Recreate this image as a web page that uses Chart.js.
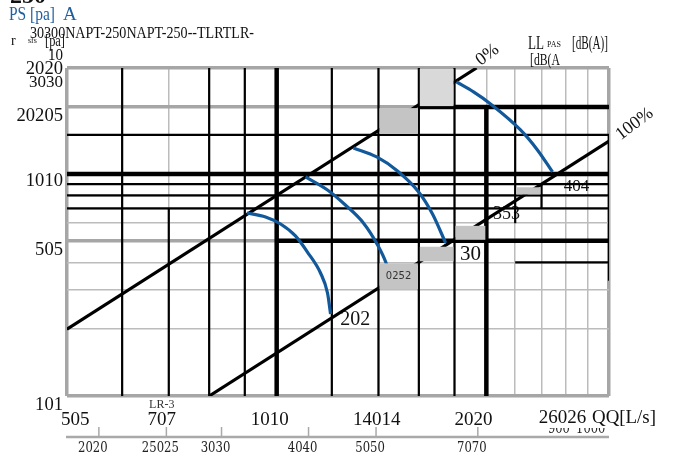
<!DOCTYPE html>
<html><head><meta charset="utf-8">
<script src="https://cdn.jsdelivr.net/npm/chart.js@4.4.0/dist/chart.umd.min.js"></script>
<style>html,body{margin:0;padding:0;background:#fff}</style>
</head><body>
<canvas id="c" width="688" height="464"></canvas>
<script>
// ---------- data ----------
const xGridValues = [50,60,70,80,90,100,120,140,160,180,200,220,240,260,280,300];   // Q [L/s]
const yGridValues = [10,20,30,40,50,60,70,80,90,100,150,200,300];                   // p [Pa]

// fan curves: Q [L/s], p [Pa]
const curve1Q = [90.6, 96.4, 101.3, 106.4, 110.7, 115.6, 118.3, 119.5];
const curve1P = [66.7, 64.0, 59.5, 52.6, 44.5, 35.8, 29.1, 23.4];
const curve2Q = [110.0, 118.3, 125.5, 133.2, 139.6, 143.4, 146];
const curve2P = [97.0, 84.7, 72.5, 60.2, 47.9, 40.1, 33.3];
const curve3Q = [128.9, 139.2, 149.1, 159.9, 167.4, 174.8];
const curve3P = [131, 119.3, 103.2, 83.0, 66.0, 48.9];
const curve4Q = [181.2, 191.7, 202.8, 223.9, 236.8, 248.9];
const curve4P = [259.7, 234.1, 206.7, 157.9, 128.3, 102.1];

// system lines (0% and 100%), end points
const line0Q = [50, 193.6];
const line0P = [20, 300];
const line100Q = [80, 300];
const line100P = [10, 140.6];

// black grid segments: [value, from, to]
const blackV = [[60,10,300],[70,10,70],[80,10,300],[90,10,300],[120,10,300],[140,10,300],[160,10,300],[180,10,300],[220,60,200],[240,70,90],[300,33,150]];
const heavyV = [[100,10,300],[200,10,200]];
const blackH = [[150,50,300],[90,50,300],[80,50,300],[70,50,300],[40,220,300]];
const heavyH = [[100,50,300],[200,160,300],[50,100,300]];

// shaded boxes
const boxQ = [[160,180],[140,160],[140,160],[160,180],[180,200],[220,240]];
const boxP = [[200,300],[150,200],[30,40],[40,47.5],[50,59],[80,88]];
const boxShade = ['light','mid','mid','mid','mid','mid'];

// axis texts
const yLabels = ['2020','3030','20205','1010','505','101'];
const yLabelAt = [297, 257, 182.5, 93.3, 45.5, 9.1];
const xLabels = ['505','707','1010','14014','2020','26026'];
const xLabelAt = [51.4, 68.4, 97.7, 139.2, 191.7, 257.2];
const flowM3h = [200,250,300,400,500,700];
const flowM3hLabels = ['2020','25025','3030','4040','5050','7070'];
const flowM3hHidden = [900,1000];

// curve labels
const curveLabels = ['202','30','353','404'];
const curveLabelQ = [129.7, 189.8, 213.8, 269.4];
const curveLabelP = [22.0, 43.2, 66.1, 88.1];
const boxLabel = '0252';
const boxLabelQ = 149.6, boxLabelP = 34.6;

// ---------- build datasets ----------
const BLUE = '#12599b';
const serif = '"Liberation Serif", "DejaVu Serif", serif';
function pts(q, p){ return q.map((v,i)=>({x:v, y:p[i]})); }
const datasets = [];
[[curve1Q,curve1P],[curve2Q,curve2P],[curve3Q,curve3P],[curve4Q,curve4P]].forEach(([q,p])=>{
  datasets.push({data:pts(q,p), showLine:true, borderColor:BLUE, borderWidth:3.2, pointRadius:0, cubicInterpolationMode:'monotone', fill:false});
});
[[line0Q,line0P],[line100Q,line100P]].forEach(([q,p])=>{
  datasets.push({data:pts(q,p), showLine:true, borderColor:'#000', borderWidth:3.2, pointRadius:0, borderCapStyle:'butt'});
});
function seg(list, vertical, w){
  list.forEach(([v,a,b])=>{
    const d = vertical ? [{x:v,y:a},{x:v,y:b}] : [{x:a,y:v},{x:b,y:v}];
    datasets.push({data:d, showLine:true, borderColor:'#000', borderWidth:w, pointRadius:0, borderCapStyle:'butt'});
  });
}
seg(heavyV, true, 4.5); seg(heavyH, false, 4.5);
seg(blackV, true, 2.2); seg(blackH, false, 2.2);

// ---------- text helper ----------
function txt(ctx, s, x, y, size, opts={}){
  ctx.save();
  ctx.font = (opts.weight||'') + ' ' + size + 'px ' + (opts.family||serif);
  ctx.fillStyle = opts.color || '#111';
  ctx.textAlign = opts.align || 'center';
  ctx.textBaseline = 'middle';
  if (opts.rot){ ctx.translate(x,y); ctx.rotate(opts.rot); x=0; y=0; }
  if (opts.maxW) ctx.fillText(s, x, y, opts.maxW); else ctx.fillText(s, x, y);
  ctx.restore();
}

const decor = {
  id:'decor',
  beforeDatasetsDraw(chart){
    const ctx = chart.ctx, xs = chart.scales.x, ys = chart.scales.y;
    curveLabels.forEach((s,i)=>{
      const size = [20,21,18,17][i];
      txt(ctx, s, xs.getPixelForValue(curveLabelQ[i]), ys.getPixelForValue(curveLabelP[i]), size);
    });
  },
  afterDatasetsDraw(chart){
    const ctx = chart.ctx, xs = chart.scales.x, ys = chart.scales.y;
    boxQ.forEach((q,i)=>{
      const x0 = xs.getPixelForValue(q[0]), x1 = xs.getPixelForValue(q[1]);
      const y0 = ys.getPixelForValue(boxP[i][1]), y1 = ys.getPixelForValue(boxP[i][0]);
      ctx.fillStyle = boxShade[i]==='light' ? '#d9d9d9' : '#c4c4c4';
      ctx.fillRect(x0+1, y0+1, x1-x0-2, y1-y0-2);
    });
    txt(ctx, boxLabel, xs.getPixelForValue(boxLabelQ), ys.getPixelForValue(boxLabelP), 10, {family:'"DejaVu Sans", sans-serif', color:'#333'});
  },
  afterDraw(chart){
    const ctx = chart.ctx, xs = chart.scales.x, ys = chart.scales.y;
    yLabels.forEach((s,i)=>{
      txt(ctx, s, 63, ys.getPixelForValue(yLabelAt[i]), i===1?17:19, {align:'right', maxW: s.length*9.3});
    });
    xLabels.forEach((s,i)=>{
      txt(ctx, s, xs.getPixelForValue(xLabelAt[i]), ys.getPixelForValue(i===5?7.96:7.8), 19, {maxW:s.length*9.6});
    });
    txt(ctx, 'LR-3', xs.getPixelForValue(68.4), 405, 12, {color:'#333'});
    txt(ctx, 'QQ[L/s]', 592, 418, 19, {align:'left', maxW:64});
    // lower axis in m3/h
    const yAx = 437;
    const xL = xs.getPixelForValue(50), xR = xs.getPixelForValue(300);
    ctx.save();
    ctx.beginPath(); ctx.rect(0, 428, 688, 7); ctx.clip();
    flowM3hHidden.forEach(v=>{
      txt(ctx, String(v), xs.getPixelForValue(v/3.6)+5, 429, 15, {family:'"DejaVu Serif", serif', maxW: String(v).length*7.3, color:'#222'});
    });
    ctx.restore();
    ctx.strokeStyle = '#a9a9a9';
    ctx.lineWidth = 2.5;
    ctx.beginPath(); ctx.moveTo(xL-1, yAx); ctx.lineTo(xR, yAx); ctx.stroke();
    ctx.lineWidth = 1.5;
    flowM3h.forEach((v,i)=>{
      const x = xs.getPixelForValue(v/3.6);
      ctx.beginPath(); ctx.moveTo(x, yAx-10); ctx.lineTo(x, yAx); ctx.stroke();
      txt(ctx, flowM3hLabels[i], x-6, 448, 15, {family:'"DejaVu Serif", serif', maxW: flowM3hLabels[i].length*7.4, color:'#222'});
    });
    txt(ctx, '0%', xs.getPixelForValue(200.8), ys.getPixelForValue(343.6), 18, {rot:-0.65});
    txt(ctx, '100%', xs.getPixelForValue(326.4), ys.getPixelForValue(167.7), 18, {rot:-0.65});
    txt(ctx, '250', 28, -3, 24, {weight:'bold'});
    txt(ctx, 'PS [pa]', 9, 15, 19, {align:'left', color:'#1f5fa0', maxW:46});
    txt(ctx, 'A', 63, 15, 19, {align:'left', color:'#1f5fa0'});
    txt(ctx, '30300NAPT-250NAPT-250--TLRTLR-', 30, 34, 17, {align:'left', maxW:224});
    txt(ctx, 'r', 11, 41, 14, {align:'left'});
    txt(ctx, 'sfs', 28, 41, 8, {align:'left'});
    txt(ctx, '[pa]', 45, 42, 16, {align:'left', maxW:20});
    txt(ctx, '10', 48, 56, 16, {align:'left', maxW:15});
    txt(ctx, 'LL', 528, 44, 18, {align:'left', maxW:16});
    txt(ctx, 'PAS', 547, 45, 8, {align:'left'});
    txt(ctx, '[dB(A)]', 572, 44, 18, {align:'left', maxW:36});
    txt(ctx, '[dB(A', 530, 61, 17, {align:'left', maxW:30});
  }
};

const thickY = v => v===10 || v===50 || v===200 || v===300;
const thickX = v => v===50 || v===300;
new Chart(document.getElementById('c'), {
  type:'scatter',
  data:{datasets},
  options:{
    responsive:false, animation:false,
    layout:{padding:{left:67, right:79, top:68, bottom:68}},
    plugins:{legend:{display:false}, tooltip:{enabled:false}},
    scales:{
      x:{type:'logarithmic', min:50, max:300,
        afterBuildTicks:s=>{ s.ticks = xGridValues.map(v=>({value:v})); },
        ticks:{display:false}, border:{display:false},
        grid:{drawTicks:false,
          color:c=>thickX(c.tick.value)?'#a6a6a6':'#bcbcbc',
          lineWidth:c=>thickX(c.tick.value)?3.5:1.5}},
      y:{type:'logarithmic', min:10, max:300,
        afterBuildTicks:s=>{ s.ticks = yGridValues.map(v=>({value:v})); },
        ticks:{display:false}, border:{display:false},
        grid:{drawTicks:false,
          color:c=>thickY(c.tick.value)?'#a6a6a6':'#bcbcbc',
          lineWidth:c=>thickY(c.tick.value)?3.5:1.5}}
    }
  },
  plugins:[decor]
});
</script>
</body></html>
